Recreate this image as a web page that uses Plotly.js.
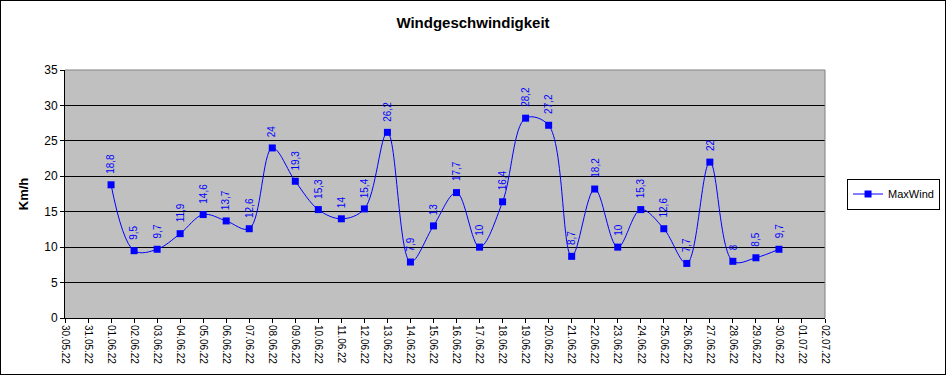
<!DOCTYPE html>
<html>
<head>
<meta charset="utf-8">
<script src="https://cdn.plot.ly/plotly-3.0.1.min.js"></script>
<style>
  html, body { margin: 0; padding: 0; background: #fff; }
  #frame { width: 946px; height: 375px; box-sizing: border-box; border: 1px solid #000; overflow: hidden; }
  #chart { width: 944px; height: 373px; }
</style>
</head>
<body>
<div id="frame"><div id="chart"></div></div>
<script>
// Data
const dates = ["2022-06-01","2022-06-02","2022-06-03","2022-06-04","2022-06-05","2022-06-06","2022-06-07","2022-06-08","2022-06-09","2022-06-10",
               "2022-06-11","2022-06-12","2022-06-13","2022-06-14","2022-06-15","2022-06-16","2022-06-17","2022-06-18","2022-06-19","2022-06-20",
               "2022-06-21","2022-06-22","2022-06-23","2022-06-24","2022-06-25","2022-06-26","2022-06-27","2022-06-28","2022-06-29","2022-06-30"];
const maxWind = [18.8, 9.5, 9.7, 11.9, 14.6, 13.7, 12.6, 24, 19.3, 15.3,
                 14, 15.4, 26.2, 7.9, 13, 17.7, 10, 16.4, 28.2, 27.2,
                 8.7, 18.2, 10, 15.3, 12.6, 7.7, 22, 8, 8.5, 9.7];
const xRange = ["2022-05-30", "2022-07-02"];
const yTicks = [0, 5, 10, 15, 20, 25, 30, 35];

const blue = "#0000FF";
const trace = {
  x: dates, y: maxWind, type: "scatter", mode: "lines+markers", name: "MaxWind",
  line: { color: blue, width: 1, shape: "spline", smoothing: 1 },
  marker: { symbol: "square", size: 7, color: blue },
  hoverinfo: "none"
};

const annotations = dates.map((d, i) => ({
  x: d, y: maxWind[i], xref: "x", yref: "y",
  text: String(maxWind[i]).replace(".", ","),
  textangle: -90, showarrow: false, yanchor: "bottom", xanchor: "center",
  yshift: 9, font: { family: "Arial, Liberation Sans, sans-serif", size: 10, color: blue }
}));

const layout = {
  width: 944, height: 373,
  margin: { l: 64, r: 120, t: 69, b: 56, autoexpand: false },
  paper_bgcolor: "#fff", plot_bgcolor: "#C0C0C0",
  showlegend: true,
  font: { family: "Arial, Liberation Sans, sans-serif", color: "#000" },
  title: { text: "Windgeschwindigkeit", x: 0.5, xref: "container", xanchor: "center",
           y: 0.942, yref: "container", yanchor: "middle",
           font: { size: 15, weight: "bold", color: "#000" } },
  xaxis: {
    type: "date", range: xRange, dtick: 86400000, tick0: xRange[0],
    tickformat: "%d.%m.%y", tickangle: 90, ticks: "outside", ticklen: 4, tickcolor: "#000",
    showgrid: false, showline: true, linecolor: "#000", linewidth: 1, zeroline: false,
    tickfont: { size: 10, color: "#000" }
  },
  yaxis: {
    range: [0, 35], tickvals: yTicks, ticks: "outside", ticklen: 4, tickcolor: "#000",
    showgrid: true, gridcolor: "#000", gridwidth: 1, showline: true, linecolor: "#000", zeroline: false,
    tickfont: { size: 12, color: "#000" },
    title: { text: "Km/h", font: { size: 13, weight: "bold", color: "#000" }, standoff: 12 }
  },
  legend: {
    x: 1.029, xanchor: "left", y: 0.5, yanchor: "middle",
    bordercolor: "#000", borderwidth: 1, bgcolor: "#fff",
    font: { size: 11, color: "#000" }
  },
  shapes: [
    { type: "line", xref: "paper", yref: "paper", x0: 0, x1: 1, y0: 1, y1: 1, line: { color: "#808080", width: 1 } },
    { type: "line", xref: "paper", yref: "paper", x0: 1, x1: 1, y0: 0, y1: 1, line: { color: "#808080", width: 1 } }
  ],
  annotations: annotations
};

Plotly.newPlot("chart", [trace], layout, { displayModeBar: false, staticPlot: true });
</script>
</body>
</html>
